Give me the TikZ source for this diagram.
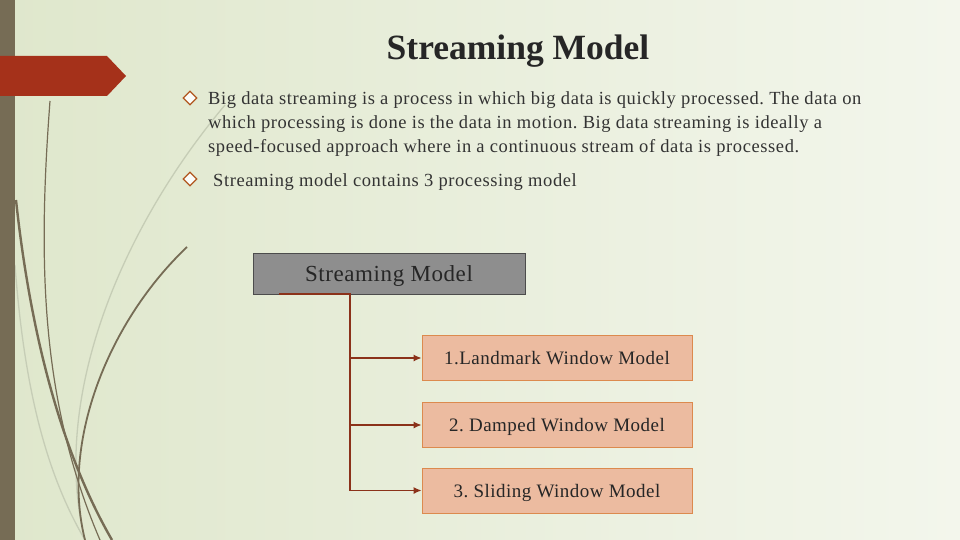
\documentclass[tikz,border=0pt]{standalone}
\usepackage{fontspec}
\setmainfont{Liberation Serif}
\newfontfamily\spacedserif[LetterSpace=3.2]{Liberation Serif}
\newfontfamily\boxserif[LetterSpace=2.5]{Liberation Serif}
\usepackage{tikz}
\usetikzlibrary{shapes.geometric,positioning,arrows.meta}

\definecolor{bgleft}{HTML}{DFE7CC}
\definecolor{bgright}{HTML}{F3F6EC}
\definecolor{stripc}{HTML}{766C55}
\definecolor{bannerc}{HTML}{A5311A}
\definecolor{grassc}{HTML}{766C55}
\definecolor{grasslight}{HTML}{C6CDB6}
\definecolor{titlec}{HTML}{262626}
\definecolor{textc}{HTML}{333333}
\definecolor{bulletc}{HTML}{B0561E}
\definecolor{rootfill}{HTML}{8E8E8E}
\definecolor{modelfill}{HTML}{ECBBA0}
\definecolor{modeldraw}{HTML}{DC8A4E}
\definecolor{linkc}{HTML}{8B321A}

\tikzset{
  bullet/.style={shape=diamond, draw=bulletc, fill=white!70!bgright, line width=1.1pt,
    minimum width=14pt, minimum height=14pt, inner sep=0pt},
  bodytext/.style={font=\spacedserif\fontsize{18.5}{24}\selectfont, text=textc, inner sep=0pt, align=left},
  rootbox/.style={rectangle, draw=black!70, fill=rootfill, line width=0.8pt, text depth=0pt,
    minimum width=272pt, minimum height=41pt, font=\boxserif\fontsize{23}{26}\selectfont, text=black!85},
  modelbox/.style={rectangle, draw=modeldraw, fill=modelfill, line width=0.8pt, text depth=0pt,
    minimum width=270pt, minimum height=45pt, font=\boxserif\fontsize{19}{22}\selectfont, text=black!85},
  link/.style={draw=linkc, line width=1.3pt},
  linkarrow/.style={link, -{Latex[length=8pt, width=7pt]}},
}

\begin{document}
\frenchspacing
\begin{tikzpicture}[x=1pt, y=-1pt]
			% Background, strip and banner:
			\useasboundingbox (0, 0) rectangle (960, 540);
			\shade[left color=bgleft, right color=bgright] (0, 0) rectangle (960, 540);
			\draw[grasslight, line width=1.3pt] (225, 105) .. controls (120, 230) and (50, 400) .. (85, 540);
			\draw[grasslight, line width=1.3pt] (15, 265) .. controls (25, 400) and (50, 480) .. (85, 540);
			\draw[grassc, line width=1.2pt] (50, 101) .. controls (38, 260) and (40, 400) .. (100, 540);
			\draw[grassc, line width=2.4pt] (16, 200) .. controls (30, 330) and (60, 450) .. (112, 540);
			\draw[grassc, line width=1.8pt] (187, 247) .. controls (110, 320) and (60, 440) .. (85, 540);
			\fill[stripc] (0, 0) rectangle (15, 540);
			\fill[bannerc] (0, 56) -- (107, 56) -- (126, 76) -- (107, 96) -- (0, 96) -- cycle;

			% Title and bullets:
			\node[font=\bfseries\fontsize{35.5}{40}\selectfont, text=titlec, anchor=base] (title) at (518, 60){Streaming Model};
			\node[bullet] (d1) at (190, 98){};
			\node[bodytext, anchor=north west] (b1) at (208, 91){Big data streaming is a process in which big data is quickly processed. The data on\\
				which processing is done is the data in motion. Big data streaming is ideally a\\
				speed-focused approach where in a continuous stream of data is processed.};
			\node[bullet] (d2) at (190, 179){};
			\node[bodytext, anchor=base west] (b2) at (213, 186){Streaming model contains 3 processing model};

			% Tree of models:
			\node[rootbox] (root) at (389, 273.5){Streaming Model};
			\node[modelbox] (m1) at (557, 358){1.Landmark Window Model};
			\node[modelbox] (m2) at (557, 425){2. Damped Window Model};
			\node[modelbox] (m3) at (557, 490.5){3. Sliding Window Model};
			\coordinate (tl) at (279, 294);
			\coordinate (trunk) at (350, 294);
			\draw[link] (tl) -- (trunk) -- (trunk |- m3.west);
			\draw[linkarrow] (trunk |- m1.west) -- (m1.west);
			\draw[linkarrow] (trunk |- m2.west) -- (m2.west);
			\draw[linkarrow] (trunk |- m3.west) -- (m3.west);
		\end{tikzpicture}
\end{document}
